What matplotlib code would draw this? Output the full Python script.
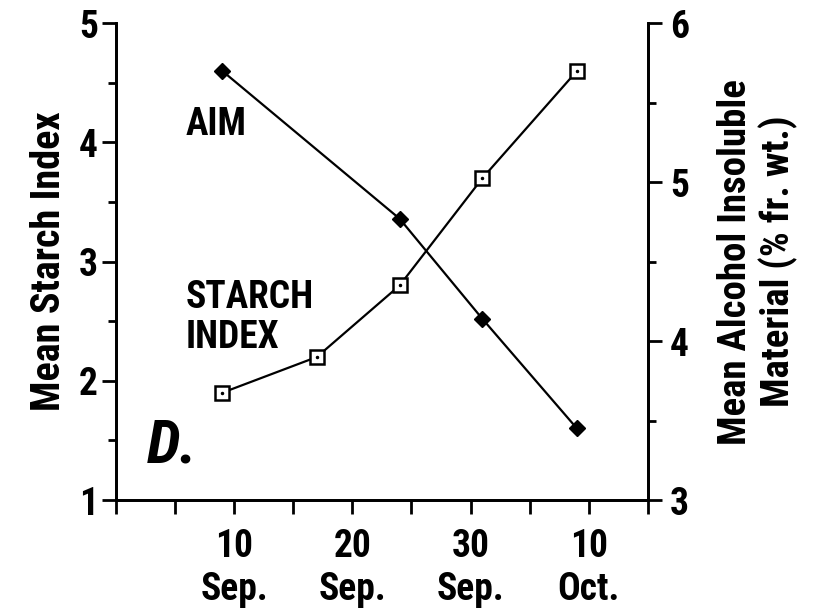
import numpy as np
import matplotlib
matplotlib.use("Agg")
from matplotlib import pyplot as plt
from matplotlib import font_manager
from matplotlib.ticker import MultipleLocator, FixedLocator

## data (days counted from 31 Aug, i.e. day 10 = 10 Sep)
days = [9, 17, 24, 31, 39]
starch_index = [1.9, 2.2, 2.8, 3.7, 4.6]
aim = [5.70, 4.77, 4.14, 3.45]
aim_days = [9, 24, 31, 39]
tick_days = [10, 20, 30, 40]
tick_labels = ["10\nSep.", "20\nSep.", "30\nSep.", "10\nOct."]

## pick the narrowest bold sans that is around
fonts = font_manager.fontManager.ttflist
names = {f.name for f in fonts}
if 'Liberation Sans Narrow' in names:
  family = 'Liberation Sans Narrow'
elif 'Roboto Condensed' in names:
  family = 'Roboto Condensed'
elif 'Roboto' in names:
  family = 'Roboto'
else:
  family = 'DejaVu Sans'

plt.rcParams['font.family'] = [family, 'DejaVu Sans']
plt.rcParams['font.weight'] = 'bold'
plt.rcParams['axes.labelweight'] = 'bold'

fig = plt.figure(figsize=(8.16, 6.12), dpi=100)
ax = fig.add_axes([0.142, 0.183, 0.652, 0.779])
ax2 = ax.twinx()

## starch index on the left axis
ax.plot(days, starch_index, color='black', lw=1.6, marker='s', ms=10,
        mfc='white', mec='black', mew=1.8, zorder=3)
ax.plot(days, starch_index, ls='none', marker='.', ms=3, color='black', zorder=4)

## AIM on the right axis
ax2.plot(aim_days, aim, color='black', lw=1.6, marker='D', ms=8.5,
         mfc='black', mec='black', zorder=3)

ax.set_xlim(0, 45)
ax.set_ylim(1, 5)
ax2.set_ylim(3, 6)

ax.xaxis.set_major_locator(FixedLocator(tick_days))
ax.set_xticklabels(tick_labels)
ax.xaxis.set_minor_locator(MultipleLocator(5))
ax.yaxis.set_major_locator(MultipleLocator(1))
ax.yaxis.set_minor_locator(MultipleLocator(0.5))
ax2.yaxis.set_major_locator(MultipleLocator(1))
ax2.yaxis.set_minor_locator(MultipleLocator(0.5))

for a in (ax, ax2):
  a.spines['top'].set_visible(False)
  for s in a.spines.values():
    s.set_linewidth(2)
  a.tick_params(which='major', length=10, width=2, labelsize=27, pad=3)
  a.tick_params(which='minor', length=6, width=2)
ax.tick_params(axis='x', which='major', length=10, labelsize=27, pad=10)
ax.tick_params(axis='x', which='minor', length=10)
ax2.tick_params(axis='y', which='major', pad=6)

ax.set_ylabel("Mean Starch Index", fontsize=29, labelpad=8)
ax2.set_ylabel("Mean Alcohol Insoluble\nMaterial (% fr. wt.)", fontsize=28,
               labelpad=20, linespacing=1.15)

## in-plot labels
ax.text(5.9, 4.15, "AIM", fontsize=27, ha='left', va='center')
ax.text(5.9, 2.53, "STARCH\nINDEX", fontsize=27, ha='left', va='center',
        linespacing=1.1)
ax.text(2.6, 1.46, "D.", fontsize=44, style='italic', ha='left', va='center')

fig.savefig("out.png", dpi=100)
